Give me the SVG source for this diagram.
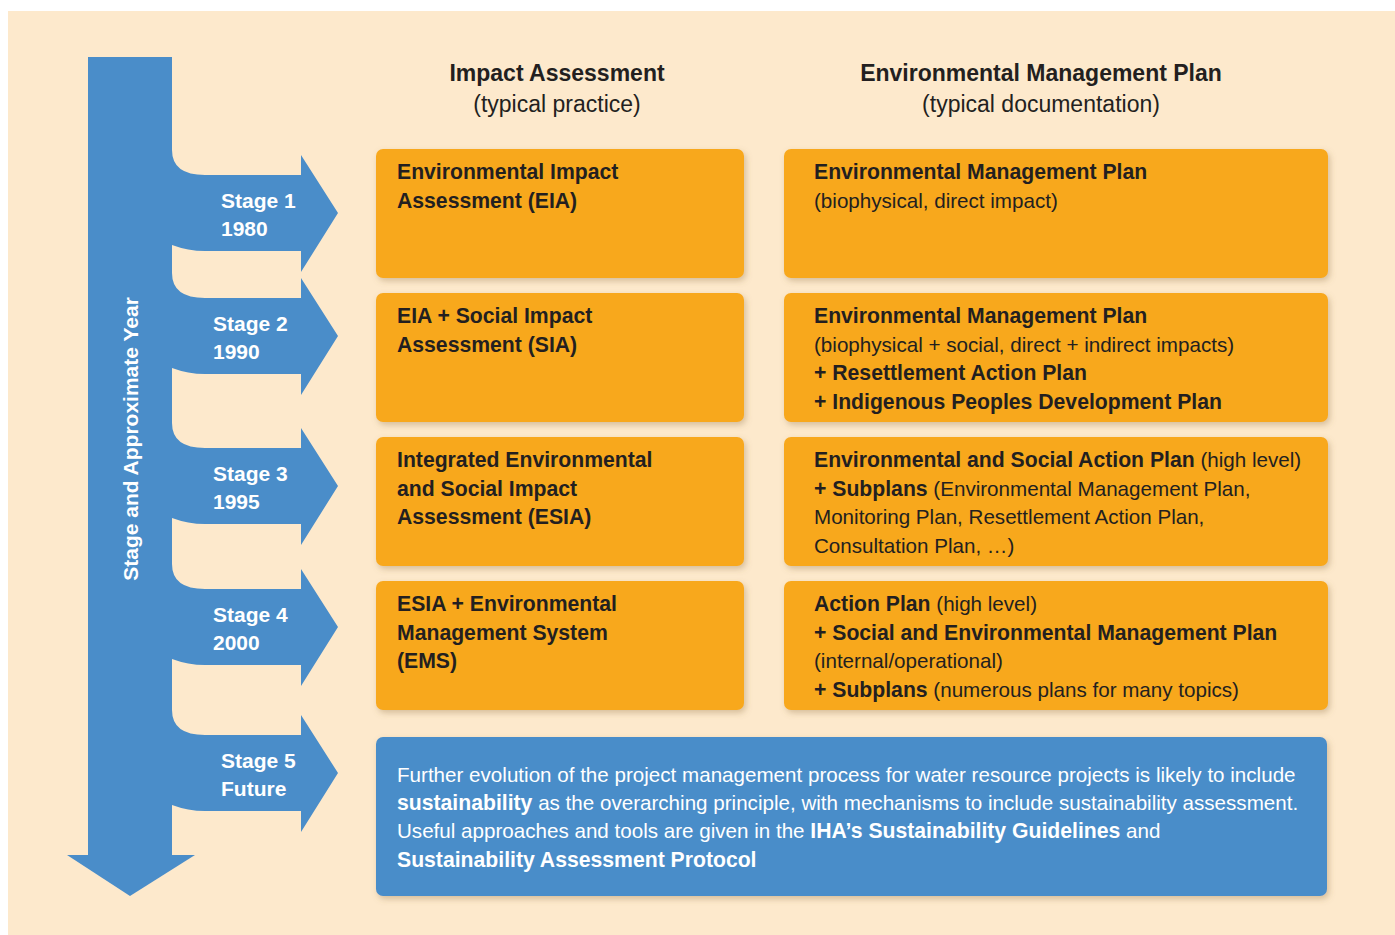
<svg xmlns="http://www.w3.org/2000/svg" width="1395" height="935" viewBox="0 0 1395 935">
<defs>
<filter id="sh" x="-5%" y="-10%" width="110%" height="125%">
<feDropShadow dx="2" dy="3" stdDeviation="3" flood-color="#8a6a3a" flood-opacity="0.35"/>
</filter>
<style>
.blue{fill:#4A8DC9}
.orange{fill:#F8A81E}
text{font-family:"Liberation Sans",Arial,sans-serif}
.hd{font-size:23px;fill:#231F20;text-anchor:middle}
.bx{font-size:20.6px;fill:#231F20}
.wt{font-size:20.6px;fill:#FFFFFF}
.b{font-weight:bold;font-size:21.2px}
.st{font-size:21px;font-weight:bold;fill:#FFFFFF}
.hd.b{font-size:23px}
</style>
</defs>
<rect x="0" y="0" width="1395" height="935" fill="#FFFFFF"/>
<rect x="8" y="11" width="1387" height="924" fill="#FDE9CC"/>

<g id="headers">
<text class="hd b" x="557" y="81">Impact Assessment</text>
<text class="hd" x="557" y="112">(typical practice)</text>
<text class="hd b" x="1041" y="81">Environmental Management Plan</text>
<text class="hd" x="1041" y="112">(typical documentation)</text>
</g>

<g id="timeline">
<rect class="blue" x="88" y="57" width="84" height="798"/>
<polygon class="blue" points="67,855 195,855 130,896"/>
<text class="st" transform="translate(138,439) rotate(-90)" text-anchor="middle">Stage and Approximate Year</text>
</g>

<g id="connectors">
<path class="blue" d="M172,150 Q172,175 205,175 L301,175 L301,155 L338,213 L301,272 L301,251 L205,251 Q188,251 172,245 Z"/>
<path class="blue" d="M172,273 Q172,298 205,298 L301,298 L301,278 L338,336 L301,395 L301,374 L205,374 Q188,374 172,368 Z"/>
<path class="blue" d="M172,423 Q172,448 205,448 L301,448 L301,428 L338,486 L301,545 L301,524 L205,524 Q188,524 172,518 Z"/>
<path class="blue" d="M172,564 Q172,589 205,589 L301,589 L301,569 L338,627 L301,686 L301,665 L205,665 Q188,665 172,659 Z"/>
<path class="blue" d="M172,710 Q172,735 205,735 L301,735 L301,715 L338,773 L301,832 L301,811 L205,811 Q188,811 172,805 Z"/>
</g>

<g id="stage1"><text class="st" x="221" y="208">Stage 1</text><text class="st" x="221" y="236">1980</text></g>
<g id="stage2"><text class="st" x="213" y="331">Stage 2</text><text class="st" x="213" y="359">1990</text></g>
<g id="stage3"><text class="st" x="213" y="481">Stage 3</text><text class="st" x="213" y="509">1995</text></g>
<g id="stage4"><text class="st" x="213" y="622">Stage 4</text><text class="st" x="213" y="650">2000</text></g>
<g id="stage5"><text class="st" x="221" y="768">Stage 5</text><text class="st" x="221" y="796">Future</text></g>

<g id="ia1">
<rect class="orange" filter="url(#sh)" x="376" y="149" width="368" height="129" rx="7"/>
<text class="bx b" x="397" y="179">Environmental Impact</text>
<text class="bx b" x="397" y="208">Assessment (EIA)</text>
</g>
<g id="emp1">
<rect class="orange" filter="url(#sh)" x="784" y="149" width="544" height="129" rx="7"/>
<text class="bx b" x="814" y="179">Environmental Management Plan</text>
<text class="bx" x="814" y="208">(biophysical, direct impact)</text>
</g>

<g id="ia2">
<rect class="orange" filter="url(#sh)" x="376" y="293" width="368" height="129" rx="7"/>
<text class="bx b" x="397" y="323">EIA + Social Impact</text>
<text class="bx b" x="397" y="352">Assessment (SIA)</text>
</g>
<g id="emp2">
<rect class="orange" filter="url(#sh)" x="784" y="293" width="544" height="129" rx="7"/>
<text class="bx b" x="814" y="323">Environmental Management Plan</text>
<text class="bx" x="814" y="352">(biophysical + social, direct + indirect impacts)</text>
<text class="bx b" x="814" y="380">+ Resettlement Action Plan</text>
<text class="bx b" x="814" y="409">+ Indigenous Peoples Development Plan</text>
</g>

<g id="ia3">
<rect class="orange" filter="url(#sh)" x="376" y="437" width="368" height="129" rx="7"/>
<text class="bx b" x="397" y="467">Integrated Environmental</text>
<text class="bx b" x="397" y="496">and Social Impact</text>
<text class="bx b" x="397" y="524">Assessment (ESIA)</text>
</g>
<g id="emp3">
<rect class="orange" filter="url(#sh)" x="784" y="437" width="544" height="129" rx="7"/>
<text class="bx" x="814" y="467"><tspan class="b">Environmental and Social Action Plan</tspan> (high level)</text>
<text class="bx" x="814" y="496"><tspan class="b">+ Subplans</tspan> (Environmental Management Plan,</text>
<text class="bx" x="814" y="524">Monitoring Plan, Resettlement Action Plan,</text>
<text class="bx" x="814" y="553">Consultation Plan, …)</text>
</g>

<g id="ia4">
<rect class="orange" filter="url(#sh)" x="376" y="581" width="368" height="129" rx="7"/>
<text class="bx b" x="397" y="611">ESIA + Environmental</text>
<text class="bx b" x="397" y="640">Management System</text>
<text class="bx b" x="397" y="668">(EMS)</text>
</g>
<g id="emp4">
<rect class="orange" filter="url(#sh)" x="784" y="581" width="544" height="129" rx="7"/>
<text class="bx" x="814" y="611"><tspan class="b">Action Plan</tspan> (high level)</text>
<text class="bx b" x="814" y="640">+ Social and Environmental Management Plan</text>
<text class="bx" x="814" y="668">(internal/operational)</text>
<text class="bx" x="814" y="697"><tspan class="b">+ Subplans</tspan> (numerous plans for many topics)</text>
</g>

<g id="future">
<rect class="blue" filter="url(#sh)" x="376" y="737" width="951" height="159" rx="7"/>
<text class="wt" x="397" y="782">Further evolution of the project management process for water resource projects is likely to include</text>
<text class="wt" x="397" y="810"><tspan class="b">sustainability</tspan> as the overarching principle, with mechanisms to include sustainability assessment.</text>
<text class="wt" x="397" y="838">Useful approaches and tools are given in the <tspan class="b">IHA’s Sustainability Guidelines</tspan> and</text>
<text class="wt b" x="397" y="867">Sustainability Assessment Protocol</text>
</g>
</svg>
